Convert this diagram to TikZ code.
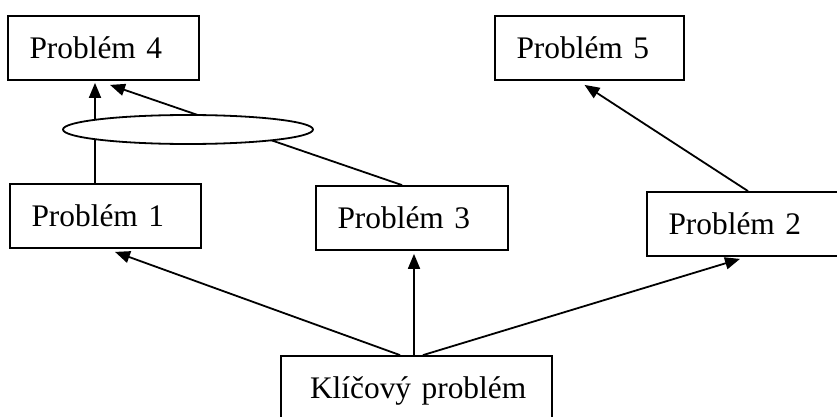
\documentclass[tikz,border=0pt]{standalone}
\usepackage{fontspec}
\setmainfont{Liberation Serif}
\usetikzlibrary{arrows.meta,shapes.geometric}
\begin{document}
\begin{tikzpicture}[x=1pt,y=-1pt,
  box/.style={draw,line width=1.8pt,rectangle,inner xsep=0pt,inner ysep=0pt,
    minimum height=64pt,align=left,text height=23.5pt,text depth=2.8pt,
    font=\fontsize{31.4pt}{36pt}\selectfont,
    execute at begin node={\noindent\hspace*{#1}}},
  box/.default=21.5pt,
  arr/.style={line width=1.8pt,-{Triangle[length=15pt,width=12pt]}},
  oval/.style={draw,ellipse,fill=white,line width=1.8pt,inner sep=0pt,
    minimum width=250pt,minimum height=29pt}]
\useasboundingbox (0,0) rectangle (837,417);
\clip (0,0) rectangle (837,417);

% problem boxes
\node[box,text width=191pt] (p4) at (103.5,48) {Problém 4};
\node[box,text width=189pt] (p5) at (589.5,48) {Problém 5};
\node[box,text width=191pt] (p1) at (105.5,216) {Problém 1};
\node[box,text width=192pt] (p3) at (412,218) {Problém 3};
\node[box,text width=194pt] (p2) at (744,224) {Problém 2};
\node[box=29pt,text width=271pt] (k) at (416.5,388) {Klíčový problém};

% links from the key problem
\draw[arr] ([xshift=-16.5pt]k.north) -- ([xshift=9.5pt,yshift=-3pt]p1.south);
\draw[arr] ([xshift=-2.5pt]k.north) -- ([xshift=2pt,yshift=-3pt]p3.south);
\draw[arr] ([xshift=6.5pt]k.north) -- ([xshift=-4pt,yshift=-2pt]p2.south);

% links to the upper problems
\draw[arr] ([xshift=-10.5pt]p1.north) -- ([xshift=-8.5pt,yshift=-2pt]p4.south);
\draw[arr] ([xshift=-10pt]p3.north) -- ([xshift=6.5pt,yshift=-4pt]p4.south);
\draw[arr] ([xshift=4pt]p2.north) -- ([xshift=-5pt,yshift=-4pt]p5.south);

% oval joining the two links into problem 4
\node[oval] (el) at (188,129.5) {};
\end{tikzpicture}
\end{document}
